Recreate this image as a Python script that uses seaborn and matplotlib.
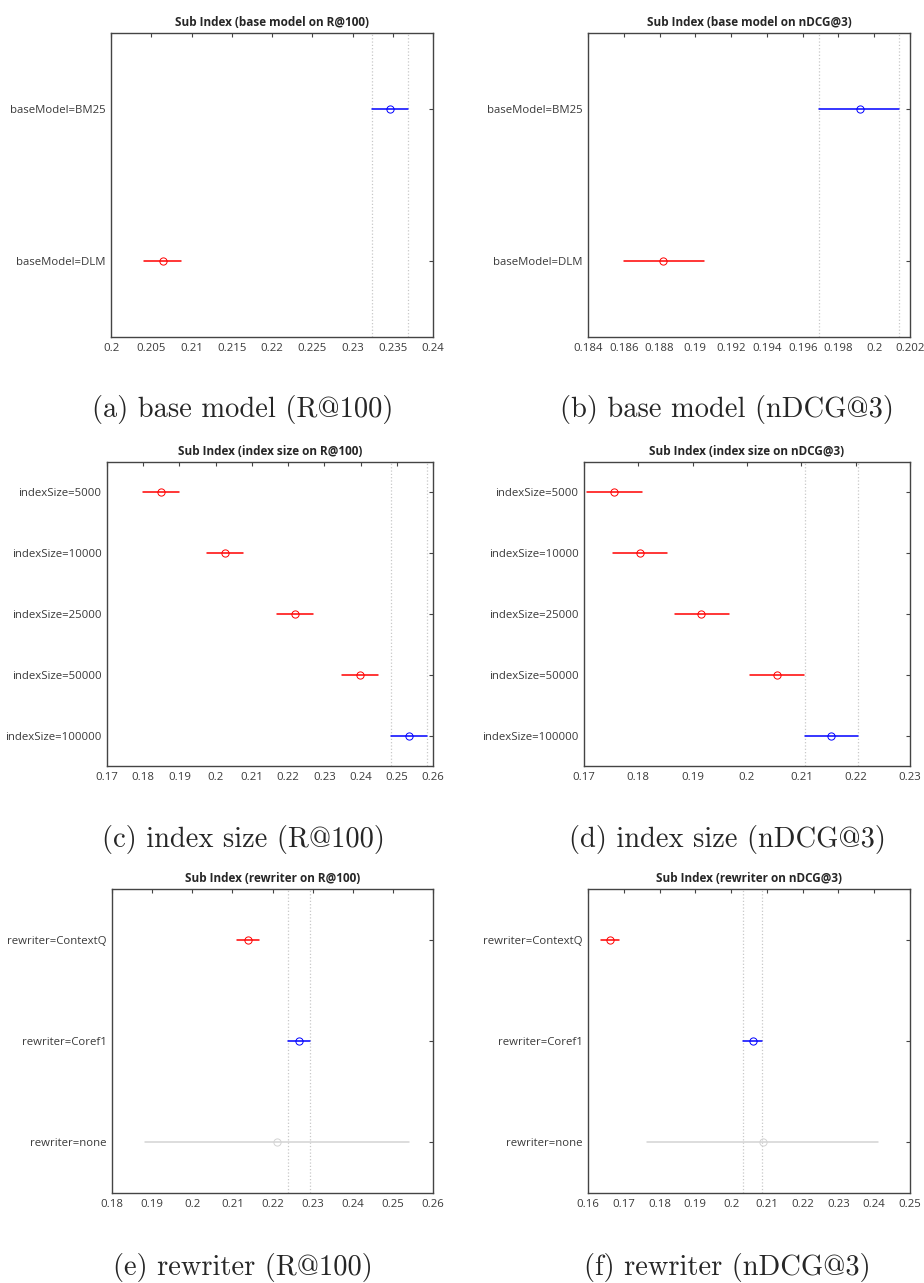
import pandas as pd
import seaborn as sns
import matplotlib.pyplot as plt

# values: mean and interval bounds per level
base_labels = ["baseModel=BM25", "baseModel=DLM"]
base_colors = ["#0000ff", "#ff0000"]
base_r100_mean = [0.2347, 0.2064]
base_r100_lo = [0.2324, 0.2041]
base_r100_hi = [0.2369, 0.2087]
base_ndcg_mean = [0.1992, 0.1882]
base_ndcg_lo = [0.1969, 0.1860]
base_ndcg_hi = [0.2014, 0.1905]

size_labels = ["indexSize=5000", "indexSize=10000", "indexSize=25000",
               "indexSize=50000", "indexSize=100000"]
size_colors = ["#ff0000", "#ff0000", "#ff0000", "#ff0000", "#0000ff"]
size_r100_mean = [0.1850, 0.2026, 0.2219, 0.2398, 0.2534]
size_r100_lo = [0.1800, 0.1976, 0.2169, 0.2349, 0.2483]
size_r100_hi = [0.1900, 0.2076, 0.2269, 0.2449, 0.2583]
size_ndcg_mean = [0.1756, 0.1803, 0.1916, 0.2055, 0.2155]
size_ndcg_lo = [0.1705, 0.1753, 0.1867, 0.2006, 0.2106]
size_ndcg_hi = [0.1806, 0.1852, 0.1966, 0.2104, 0.2204]

rw_labels = ["rewriter=ContextQ", "rewriter=Coref1", "rewriter=none"]
rw_colors = ["#ff0000", "#0000ff", "#d3d3d3"]
rw_r100_mean = [0.2139, 0.2266, 0.2210]
rw_r100_lo = [0.2112, 0.2239, 0.1882]
rw_r100_hi = [0.2166, 0.2293, 0.2539]
rw_ndcg_mean = [0.1661, 0.2060, 0.2088]
rw_ndcg_lo = [0.1636, 0.2034, 0.1765]
rw_ndcg_hi = [0.1687, 0.2087, 0.2410]

panels = [
    ("base model", "R@100", base_labels, base_colors, base_r100_mean, base_r100_lo, base_r100_hi,
     [0.2, 0.205, 0.21, 0.215, 0.22, 0.225, 0.23, 0.235, 0.24], 0),
    ("base model", "nDCG@3", base_labels, base_colors, base_ndcg_mean, base_ndcg_lo, base_ndcg_hi,
     [0.184, 0.186, 0.188, 0.19, 0.192, 0.194, 0.196, 0.198, 0.2, 0.202], 0),
    ("index size", "R@100", size_labels, size_colors, size_r100_mean, size_r100_lo, size_r100_hi,
     [0.17, 0.18, 0.19, 0.2, 0.21, 0.22, 0.23, 0.24, 0.25, 0.26], 4),
    ("index size", "nDCG@3", size_labels, size_colors, size_ndcg_mean, size_ndcg_lo, size_ndcg_hi,
     [0.17, 0.18, 0.19, 0.2, 0.21, 0.22, 0.23], 4),
    ("rewriter", "R@100", rw_labels, rw_colors, rw_r100_mean, rw_r100_lo, rw_r100_hi,
     [0.18, 0.19, 0.2, 0.21, 0.22, 0.23, 0.24, 0.25, 0.26], 1),
    ("rewriter", "nDCG@3", rw_labels, rw_colors, rw_ndcg_mean, rw_ndcg_lo, rw_ndcg_hi,
     [0.16, 0.17, 0.18, 0.19, 0.2, 0.21, 0.22, 0.23, 0.24, 0.25], 1),
]
captions = ["(a)", "(b)", "(c)", "(d)", "(e)", "(f)"]

# axes boxes in pixels: left, right, top, bottom
boxes = [(111, 433, 33, 337), (588, 910, 33, 337),
         (107, 433, 462, 766), (584, 910, 462, 766),
         (112, 433, 889, 1193), (588, 910, 889, 1193)]
caption_y = [410, 410, 840, 840, 1267, 1267]
caption_x = [243, 727, 243, 727, 243, 727]

sns.set_style("white")
plt.rcParams["font.family"] = ["Open Sans", "DejaVu Sans"]

W, H = 924, 1283
fig = plt.figure(figsize=(W / 100, H / 100), dpi=100)

for i, (name, metric, labels, colors, mean, lo, hi, ticks, ref) in enumerate(panels):
    l, r, t, b = boxes[i]
    ax = fig.add_axes([l / W, 1 - b / H, (r - l) / W, (b - t) / H])

    # three rows per level: median = mean, full range = interval
    df = pd.DataFrame({
        "label": labels * 3,
        "value": lo + mean + hi,
    })
    sns.pointplot(data=df, x="value", y="label", hue="label", order=labels,
                  hue_order=labels, palette=colors, estimator="median",
                  errorbar=("pi", 100), linestyle="none", markers="o",
                  markerfacecolor="none", markersize=5.2, markeredgewidth=0.7,
                  err_kws={"linewidth": 1.1}, legend=False, ax=ax)

    ax.axvline(lo[ref], color="#c8c8c8", linestyle=":", linewidth=0.9, zorder=0)
    ax.axvline(hi[ref], color="#c8c8c8", linestyle=":", linewidth=0.9, zorder=0)

    ax.set_xlim(ticks[0], ticks[-1])
    ax.set_xticks(ticks)
    ax.set_xticklabels([f"{v:g}" for v in ticks])
    ax.set_xlabel("")
    ax.set_ylabel("")
    ax.set_title(f"Sub Index ({name} on {metric})", fontsize=8.5,
                 fontweight="bold", pad=5)
    ax.tick_params(axis="both", direction="in", length=3, width=0.8,
                   top=True, right=True, labelsize=8.2, labelcolor="#3a3a3a",
                   color="#444444", pad=4)
    for sp in ax.spines.values():
        sp.set_color("#444444")
        sp.set_linewidth(1.0)

    fig.text(caption_x[i] / W, 1 - caption_y[i] / H, f"{captions[i]} {name} ({metric})",
             ha="center", va="center", fontsize=20.5,
             family=["cmr10", "DejaVu Serif"])

fig.savefig("out.png", dpi=100)
